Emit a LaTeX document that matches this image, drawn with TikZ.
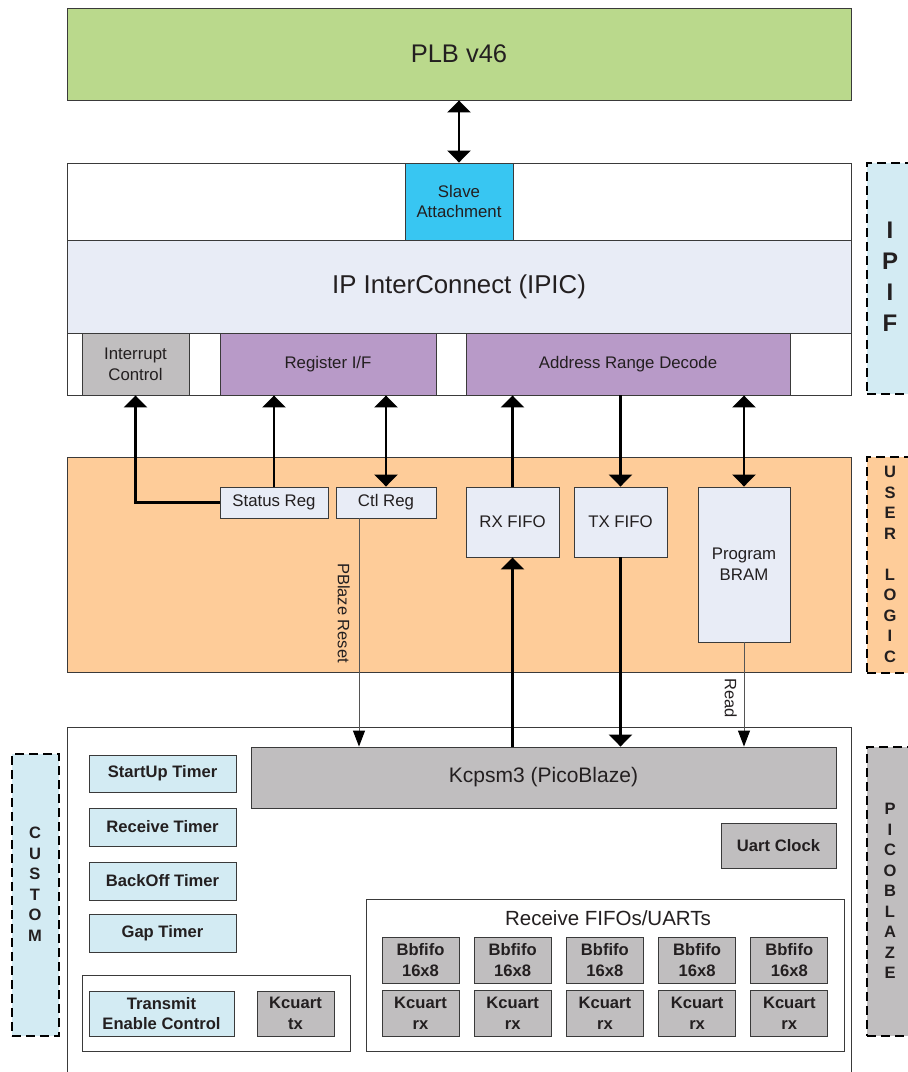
\documentclass[tikz,border=0pt]{standalone}
\usepackage{fontspec}
\setmainfont{Liberation Sans}
\usetikzlibrary{arrows.meta}
\definecolor{plbg}{HTML}{BAD98C}
\definecolor{slavec}{HTML}{38C6F2}
\definecolor{ipicc}{HTML}{E8ECF6}
\definecolor{grayc}{HTML}{C0BEBF}
\definecolor{purpc}{HTML}{B89AC8}
\definecolor{peach}{HTML}{FECC99}
\definecolor{lblue}{HTML}{D3EBF3}
\definecolor{bordc}{HTML}{3A3A3A}
\definecolor{txtc}{HTML}{231F20}
\definecolor{thinc}{HTML}{555555}
\newcommand\myfs[2]{\fontsize{#1}{#2}\selectfont}
\tikzset{
  Big/.tip={Triangle[width=23pt,length=12pt]},
  Small/.tip={Triangle[width=12pt,length=16pt,color=black]},
}
\begin{document}
\begin{tikzpicture}[x=1pt,y=-1pt,
  box/.style={draw=bordc,line width=0.9pt,inner sep=0pt,align=center,text=txtc,font=\myfs{16.8}{20.8}},
  wh/.style 2 args={minimum width=#1pt,minimum height=#2pt},
  bold/.style={font=\bfseries\myfs{16.6}{20.8}},
  lbl/.style={draw=black,line width=2.4pt,dash pattern=on 9pt off 5pt,inner sep=0pt,minimum width=48pt},
  ltxt/.style={font=\bfseries\myfs{16.5}{20.5},align=center,text=txtc,inner sep=0pt},
  thk/.style={line width=2.6pt,black},
  thinl/.style={line width=1pt,thinc},
  rlab/.style={rotate=-90,anchor=north,inner sep=0pt,text=txtc,font=\myfs{16.5}{20}},
]
\useasboundingbox (0,0) rectangle (908,1072);
\clip (0,0) rectangle (908,1072);

% PLB
\node[box,fill=plbg,wh={784}{92},font=\myfs{25.5}{30}] (plb) at (459,54) {PLB v46};

% IPIF
\node[box,fill=white,wh={784}{232}] (ipif) at (459,279) {};
\node[box,fill=slavec,wh={108}{77}] (slave) at (459,201.5) {Slave\\Attachment};
\node[box,fill=ipicc,wh={784}{93},font=\myfs{25.8}{30}] (ipic) at (459,286.5) {IP InterConnect (IPIC)};
\node[box,fill=grayc,wh={107}{62}] (intr) at (135.5,364) {Interrupt\\Control};
\node[box,fill=purpc,wh={216}{62}] (regif) at (328,364) {Register I/F};
\node[box,fill=purpc,wh={324}{62}] (ard) at (628,364) {Address Range Decode};

% User logic
\node[box,fill=peach,wh={784}{215}] (user) at (459,564.5) {};
\node[box,fill=ipicc,wh={108}{31}] (status) at (274,502.5) {Status Reg};
\node[box,fill=ipicc,wh={100}{31}] (ctl) at (386,502.5) {Ctl Reg};
\node[box,fill=ipicc,wh={93}{70}] (rx) at (512.5,522) {RX FIFO};
\node[box,fill=ipicc,wh={93}{70}] (tx) at (620.5,522) {TX FIFO};
\node[box,fill=ipicc,wh={92}{155}] (bram) at (744,564.5) {Program\\BRAM};

% PicoBlaze
\node[box,fill=white,wh={784}{358}] (pico) at (459,906) {};
\node[box,fill=grayc,wh={585}{61},font=\myfs{21}{25}] (kc) at (543.5,777.5) {Kcpsm3 (PicoBlaze)};
\node[box,fill=grayc,wh={115}{45},bold] (uclk) at (778.5,845.5) {Uart Clock};
\node[box,fill=lblue,wh={147}{37},bold] (t1) at (162.5,773.5) {StartUp Timer};
\node[box,fill=lblue,wh={147}{38},bold] (t2) at (162.5,827) {Receive Timer};
\node[box,fill=lblue,wh={147}{38},bold] (t3) at (162.5,881) {BackOff Timer};
\node[box,fill=lblue,wh={147}{38},bold] (t4) at (162.5,933) {Gap Timer};
\node[box,fill=white,wh={268}{76}] (txgrp) at (216,1013) {};
\node[box,fill=lblue,wh={145}{45},bold] (tec) at (161.5,1013.5) {Transmit\\Enable Control};
\node[box,fill=grayc,wh={77}{45},bold] (kctx) at (295.5,1013.5) {Kcuart\\tx};
\node[box,fill=white,wh={478}{152}] (rxgrp) at (605,975) {};
\node[inner sep=0pt,text=txtc,font=\myfs{20.5}{24}] (rxtitle) at (608,918) {Receive FIFOs/UARTs};
\foreach \i in {0,...,4}{
  \node[box,fill=grayc,wh={77}{46},bold] (bb\i) at ({420.5+92.2*\i},960) {Bbfifo\\16x8};
  \node[box,fill=grayc,wh={77}{46},bold] (kr\i) at ({420.5+92.2*\i},1013) {Kcuart\\rx};
}

% Side labels
\node[lbl,fill=lblue,minimum height=231pt] (ipifbox) at (891,278.5) {};
\node[ltxt,font=\bfseries\myfs{24}{31}] (ipiftxt) at (890,277) {I\\P\\I\\F};
\node[lbl,fill=peach,minimum height=216pt] (userbox) at (891,565) {};
\node[ltxt] (usertxt) at (890,564.5) {U\\S\\E\\R\\[20.5pt]L\\O\\G\\I\\C};
\node[lbl,fill=lblue,minimum width=47pt,minimum height=282pt] (custbox) at (35.5,895) {};
\node[ltxt] (custtxt) at (35,884) {C\\U\\S\\T\\O\\M};
\node[lbl,fill=grayc,minimum height=289pt] (picobox) at (891,891.5) {};
\node[ltxt] (picotxt) at (890,891) {P\\I\\C\\O\\B\\L\\A\\Z\\E};

% Connectors
\draw[thk,Big-Big] (plb.south) -- (slave.north);
\draw[thk,-Big] (status.west) -| (intr.south);
\draw[thk,-Big] (status.north) -- (status.north |- regif.south);
\draw[thk,Big-Big] (ctl.north |- regif.south) -- (ctl.north);
\draw[thk,-Big] (rx.north) -- (rx.north |- ard.south);
\draw[thk,-Big] (tx.north |- ard.south) -- (tx.north);
\draw[thk,Big-Big] (bram.north |- ard.south) -- (bram.north);
\draw[thk,-Big] (rx.south |- kc.north) -- (rx.south);
\draw[thk,-Big] (tx.south) -- (tx.south |- kc.north);
\coordinate (rstop) at ([xshift=-27pt]ctl.south);
\draw[thinl,-Small] (rstop) -- (rstop |- kc.north);
\draw[thinl,-Small] (bram.south) -- (bram.south |- kc.north);
\node[rlab] (resetlbl) at (350,613) {PBlaze Reset};
\node[rlab] (readlbl) at (737,698) {Read};
\end{tikzpicture}
\end{document}
